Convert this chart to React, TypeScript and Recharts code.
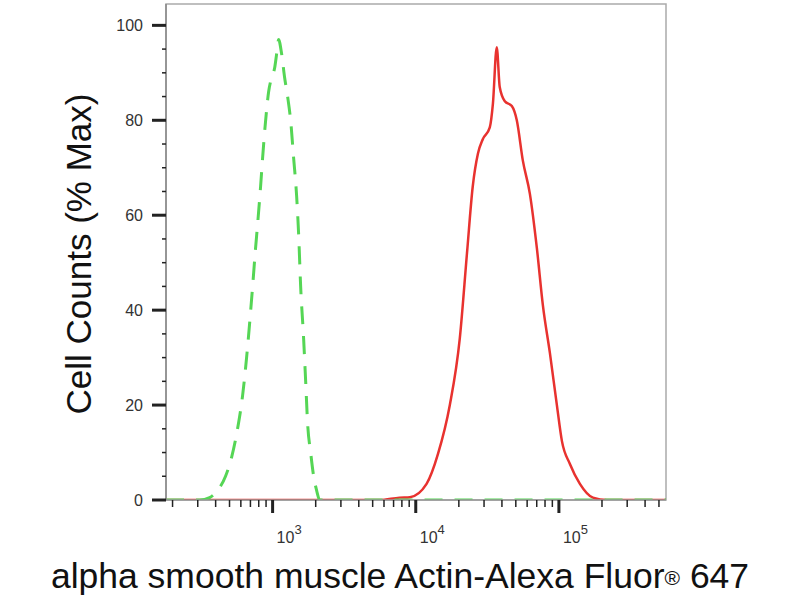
import { LineChart, Line, XAxis, YAxis, ReferenceArea } from "recharts";

// control (isotype) histogram, dashed green
const controlX = [180, 309, 363, 412, 469, 517, 569, 617, 658, 690, 725, 760, 785, 824, 851, 894, 938, 984, 1033, 1067, 1101, 1156, 1213, 1273, 1336, 1403, 1472, 1520, 1570, 1647, 1702, 1757, 1844, 1935, 2031, 2132, 10000, 100000, 560000];
const controlY = [0, 0, 0.5, 2, 5, 9, 15, 22, 30, 37, 45, 53, 58, 66, 72, 80, 86, 89, 91, 94, 97, 94, 89, 85, 80, 72, 64, 56, 45, 34, 25, 16, 10, 5, 2, 0, 0, 0, 0];

// stained sample histogram, solid red
const stainedX = [180, 1000, 5600, 7700, 9100, 11900, 14300, 17300, 20300, 22800, 25000, 27200, 29400, 32900, 34600, 36800, 38600, 41900, 46900, 50800, 56000, 62700, 70200, 77300, 86500, 96800, 105000, 119400, 140200, 172900, 216800, 560000];
const stainedY = [0, 0, 0, 0.5, 0.6, 3.4, 9.7, 20, 34, 52, 66, 73, 76, 78.5, 83.5, 95.4, 87, 84, 83, 80, 71.5, 64.5, 53, 41, 31, 20, 12.4, 7.6, 3.4, 0.5, 0, 0];

const yTicks = [0, 5, 10, 15, 20, 25, 30, 35, 40, 45, 50, 55, 60, 65, 70, 75, 80, 85, 90, 95, 100];
const xTicks = [200, 300, 400, 500, 600, 700, 800, 900, 1000, 2000, 3000, 4000, 5000, 6000, 7000, 8000, 9000, 10000, 20000, 30000, 40000, 50000, 60000, 70000, 80000, 90000, 100000, 200000, 300000, 400000, 500000];

const controlData = controlX.map((x, i) => ({ x, y: controlY[i] }));
const stainedData = stainedX.map((x, i) => ({ x, y: stainedY[i] }));

const font = "Arial, 'Liberation Sans', sans-serif";

const XTick = (props: any) => {
  const { x, y, payload } = props;
  const exp = Math.log10(payload.value);
  const major = Math.abs(exp - Math.round(exp)) < 1e-6;
  return (
    <g>
      <line x1={x} x2={x} y1={y} y2={y + (major ? 13 : 7)} stroke="#222" strokeWidth={major ? 3 : 1.5} />
      {major && (
        <text x={x + 4} y={y + 43} fontFamily={font} fontSize={16} fill="#333">
          10
          <tspan dy={-9} fontSize={13}>
            {Math.round(exp)}
          </tspan>
        </text>
      )}
    </g>
  );
};

const YTick = (props: any) => {
  const { x, y, payload } = props;
  const major = payload.value % 20 === 0;
  return (
    <g>
      <line x1={x - (major ? 14 : 4)} x2={x} y1={y} y2={y} stroke="#222" strokeWidth={major ? 3 : 1.5} />
      {major && (
        <text x={x - 23} y={y} dy="0.35em" textAnchor="end" fontFamily={font} fontSize={16} fill="#333">
          {payload.value}
        </text>
      )}
    </g>
  );
};

export default function App() {
  return (
    <div style={{ position: "absolute", left: 0, top: 0, width: 800, height: 600, background: "#fff" }}>
      <LineChart width={800} height={600} margin={{ top: 4, right: 134, bottom: 40, left: 66 }}>
        <XAxis
          dataKey="x"
          type="number"
          scale="log"
          domain={[180, 560000]}
          allowDataOverflow
          ticks={xTicks}
          interval={0}
          tick={<XTick />}
          tickLine={false}
          tickSize={0}
          tickMargin={0}
          height={60}
          axisLine={{ stroke: "#999", strokeWidth: 1.5 }}
        />
        <YAxis
          type="number"
          domain={[0, 104.5]}
          allowDataOverflow
          ticks={yTicks}
          interval={0}
          tick={<YTick />}
          tickLine={false}
          tickSize={0}
          tickMargin={0}
          width={100}
          axisLine={{ stroke: "#888", strokeWidth: 1.5 }}
        />
        <ReferenceArea x1={180} x2={560000} y1={0} y2={104.5} fill="none" stroke="#aaa" strokeWidth={1.5} />
        <Line
          data={stainedData}
          dataKey="y"
          type="monotone"
          stroke="#e8322f"
          strokeWidth={2.5}
          dot={false}
          isAnimationActive={false}
        />
        <Line
          data={controlData}
          dataKey="y"
          type="monotone"
          stroke="#55d655"
          strokeWidth={3}
          strokeDasharray="18 12"
          dot={false}
          isAnimationActive={false}
        />
      </LineChart>
      <div
        style={{
          position: "absolute",
          left: 79,
          top: 254,
          transform: "translate(-50%, -50%) rotate(-90deg)",
          whiteSpace: "nowrap",
          fontFamily: font,
          fontSize: 35,
          color: "#111",
        }}
      >
        Cell Counts (% Max)
      </div>
      <div
        style={{
          position: "absolute",
          left: 0,
          width: 800,
          top: 556,
          textAlign: "center",
          whiteSpace: "nowrap",
          fontFamily: font,
          fontSize: 35.5,
          lineHeight: "40px",
          color: "#111",
        }}
      >
        alpha smooth muscle Actin-Alexa Fluor
        <span style={{ fontSize: 21, verticalAlign: "top", position: "relative", top: 2 }}>®</span> 647
      </div>
    </div>
  );
}
